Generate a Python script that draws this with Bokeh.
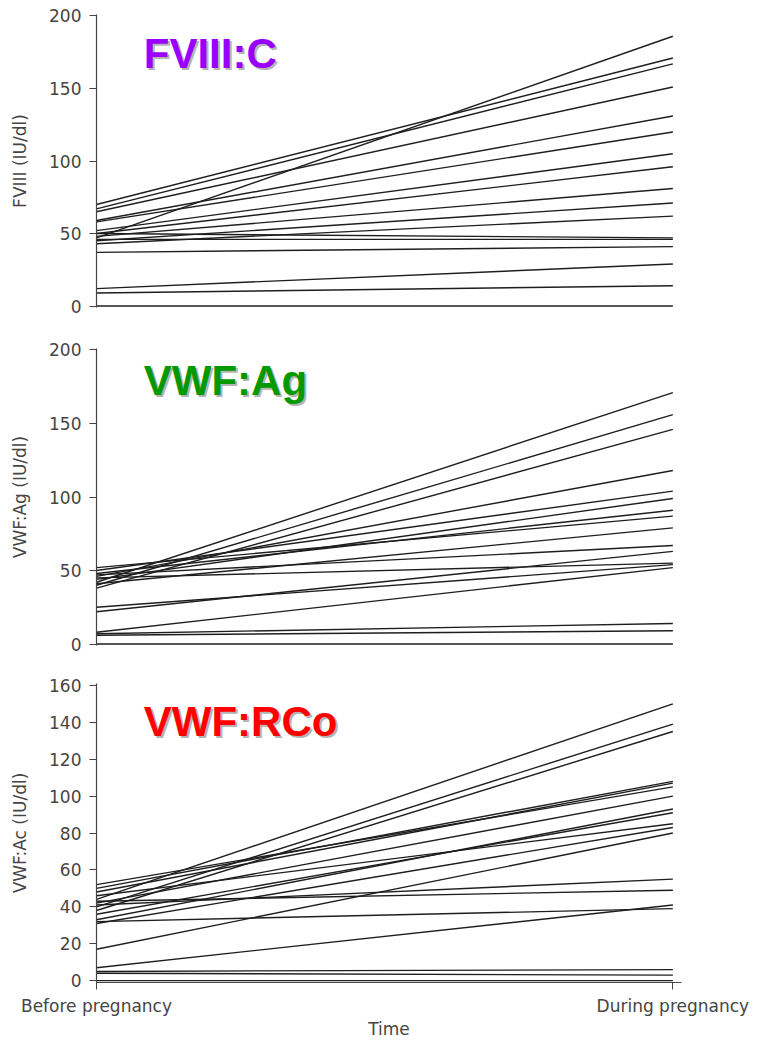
from bokeh.plotting import figure
from bokeh.layouts import column
from bokeh.models import Range1d, Label, FixedTicker
from bokeh.embed import file_html
from bokeh.resources import INLINE

time_labels = ["Before pregnancy", "During pregnancy"]

fviii_before = [47, 70, 67, 65, 59, 58, 52, 50, 48, 45, 43, 50, 46, 37, 12, 9, 0]
fviii_during = [186, 171, 167, 151, 131, 120, 105, 96, 81, 71, 62, 47, 46, 41, 29, 14, 0]

vwfag_before = [42, 40, 38, 46, 50, 44, 48, 52, 41, 47, 22, 45, 25, 8, 7, 6, 0]
vwfag_during = [171, 156, 146, 118, 104, 99, 91, 87, 79, 67, 63, 55, 54, 52, 14, 9, 0]

vwfrco_before = [44, 40, 38, 50, 48, 52, 42, 33, 36, 46, 31, 17, 41, 43, 32, 7, 5, 4, 0]
vwfrco_during = [150, 139, 135, 108, 107, 105, 100, 93, 91, 85, 83, 80, 55, 49, 39, 41, 6, 3, 0]

FONT = "DejaVu Sans"
TXT = "#454545"
LINE = "#1e1e1e"


def make_panel(before, during, ylabel, yticks, ymax, title, color, title_x, title_y,
               frame_h, top, bottom, show_x):
    p = figure(frame_width=585, frame_height=frame_h,
               x_range=Range1d(0, 1.015), y_range=Range1d(-1, ymax + 1),
               output_backend="svg", toolbar_location=None,
               min_border_left=96, min_border_right=72,
               min_border_top=top, min_border_bottom=bottom)
    p.outline_line_color = None
    p.grid.visible = False
    p.background_fill_color = "white"

    pos = list(range(len(time_labels)))
    xs = [pos for _ in before]
    ys = [[b, d] for b, d in zip(before, during)]
    p.multi_line(xs, ys, line_color=LINE, line_width=1.4)

    ya = p.yaxis[0]
    ya.ticker = FixedTicker(ticks=yticks)
    ya.minor_tick_line_color = None
    ya.major_tick_in = 0
    ya.major_tick_out = 7
    ya.major_tick_line_color = "#444444"
    ya.axis_line_color = "#444444"
    ya.axis_line_width = 1.2
    ya.major_label_text_font = FONT
    ya.major_label_text_font_size = "17px"
    ya.major_label_text_color = TXT
    ya.major_label_standoff = 8
    ya.axis_label = ylabel
    ya.axis_label_text_font = FONT
    ya.axis_label_text_font_size = "17px"
    ya.axis_label_text_font_style = "normal"
    ya.axis_label_text_color = TXT
    ya.axis_label_standoff = 16

    xa = p.xaxis[0]
    if show_x:
        xa.ticker = FixedTicker(ticks=pos)
        xa.major_label_overrides = {i: t for i, t in zip(pos, time_labels)}
        xa.minor_tick_line_color = None
        xa.major_tick_in = 0
        xa.major_tick_out = 7
        xa.major_tick_line_color = "#444444"
        xa.axis_line_color = "#444444"
        xa.major_label_text_font = FONT
        xa.major_label_text_font_size = "17px"
        xa.major_label_text_color = TXT
        xa.major_label_standoff = 6
        xa.axis_label = "Time"
        xa.axis_label_text_font = FONT
        xa.axis_label_text_font_size = "17px"
        xa.axis_label_text_font_style = "normal"
        xa.axis_label_text_color = TXT
        xa.axis_label_standoff = 0
    else:
        xa.visible = False

    shadow = Label(x=title_x, y=title_y, text=title, x_offset=2, y_offset=-2,
                   text_font="Liberation Sans", text_font_style="bold",
                   text_font_size="42px", text_color="#b4b4b4",
                   text_baseline="top")
    lab = Label(x=title_x, y=title_y, text=title,
                text_font="Liberation Sans", text_font_style="bold",
                text_font_size="42px", text_color=color,
                text_baseline="top")
    p.add_layout(shadow)
    p.add_layout(lab)
    return p


p1 = make_panel(fviii_before, fviii_during, "FVIII (IU/dl)", [0, 50, 100, 150, 200], 200,
                "FVIII:C", "#9900ff", 0.082, 190, 293, 14, 23, False)
p2 = make_panel(vwfag_before, vwfag_during, "VWF:Ag (IU/dl)", [0, 50, 100, 150, 200], 200,
                "VWF:Ag", "#009900", 0.082, 195, 297, 18, 20, False)
p3 = make_panel(vwfrco_before, vwfrco_during, "VWF:Ac (IU/dl)", list(range(0, 161, 20)), 160,
                "VWF:RCo", "#ff0000", 0.082, 153, 299, 18, 50, True)

layout = column(p1, p2, p3, spacing=0)
open("out.html", "w").write(file_html(layout, INLINE))
